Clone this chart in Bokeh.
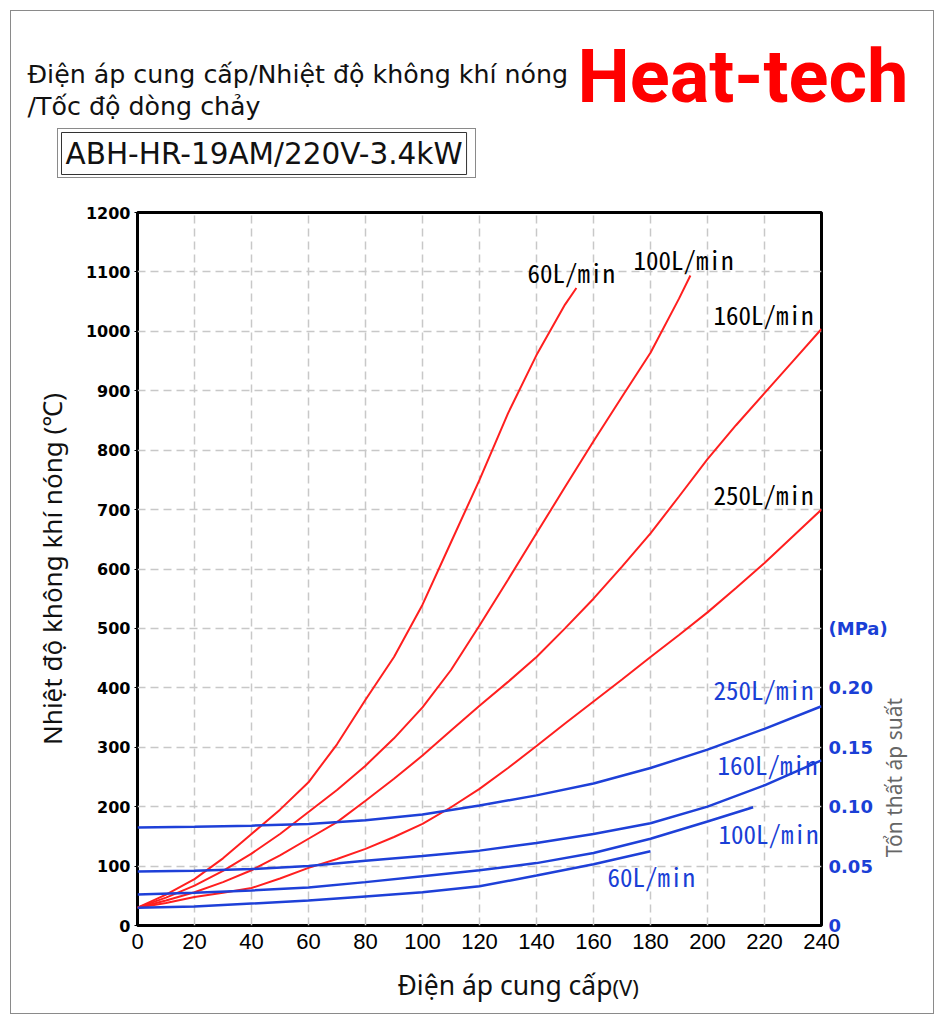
import math
from bokeh.plotting import figure
from bokeh.models import (Range1d, LinearAxis, Label, FixedTicker, InlineStyleSheet)
from bokeh.embed import file_html
from bokeh.resources import INLINE

# ---------------- data ----------------
volt_ticks = list(range(0, 241, 20))
temp_ticks = list(range(0, 1201, 100))
mpa_ticks = [0, 0.05, 0.10, 0.15, 0.20, 0.25]
mpa_tick_labels = ["0", "0.05", "0.10", "0.15", "0.20", "(MPa)"]

# hot-air temperature (°C) vs supply voltage (V)
red60_v = [0, 10, 20, 30, 40, 50, 60, 70, 80, 90, 100, 110, 120, 130, 140, 150, 154]
red60_t = [30, 52, 78, 113, 154, 195, 241, 305, 380, 452, 540, 645, 750, 862, 960, 1045, 1073]

red100_v = [0, 10, 20, 30, 40, 50, 60, 70, 80, 90, 100, 110, 120, 130, 140, 150, 160, 170, 180, 190, 194]
red100_t = [30, 47, 67, 92, 121, 154, 191, 228, 269, 315, 367, 430, 505, 582, 660, 738, 815, 890, 964, 1055, 1094]

red160_v = [0, 10, 20, 30, 40, 50, 60, 70, 80, 90, 100, 110, 120, 130, 140, 150, 160, 170, 180, 190, 200, 210, 220, 230, 240]
red160_t = [30, 42, 56, 73, 93, 118, 146, 174, 210, 247, 286, 328, 370, 410, 452, 500, 550, 604, 660, 722, 785, 842, 896, 950, 1004]

red250_v = [0, 10, 20, 30, 40, 50, 60, 70, 80, 90, 100, 110, 120, 130, 140, 150, 160, 170, 180, 190, 200, 210, 220, 230, 240]
red250_t = [30, 38, 48, 55, 63, 79, 97, 112, 129, 149, 171, 199, 230, 265, 302, 340, 377, 414, 452, 489, 527, 568, 610, 655, 700]

# pressure loss (MPa) vs supply voltage (V)
blue250_v = [0, 20, 40, 60, 80, 100, 120, 140, 160, 180, 200, 220, 240]
blue250_p = [0.0825, 0.083, 0.084, 0.0855, 0.0885, 0.0935, 0.101, 0.1095, 0.1195, 0.1325, 0.148, 0.1655, 0.1845]

blue160_v = [0, 20, 40, 60, 80, 100, 120, 140, 160, 180, 200, 220, 240]
blue160_p = [0.0455, 0.046, 0.0475, 0.050, 0.0545, 0.0585, 0.063, 0.0695, 0.077, 0.086, 0.100, 0.118, 0.139]

blue100_v = [0, 20, 40, 60, 80, 100, 120, 140, 160, 180, 200, 216]
blue100_p = [0.026, 0.0275, 0.0295, 0.032, 0.0365, 0.0415, 0.0465, 0.0525, 0.061, 0.073, 0.0875, 0.0995]

blue60_v = [0, 20, 40, 60, 80, 100, 120, 140, 160, 180]
blue60_p = [0.015, 0.016, 0.0185, 0.021, 0.0245, 0.028, 0.033, 0.042, 0.0515, 0.0625]

title1 = "Điện áp cung cấp/Nhiệt độ không khí nóng"
title2 = "/Tốc độ dòng chảy"
model = "ABH-HR-19AM/220V-3.4kW"
brand = "Heat-tech"
x_title = "Điện áp cung cấp"
x_unit = "(V)"
y_title = "Nhiệt độ không khí nóng (℃)"
y2_title = "Tổn thất áp suất"

# ---------------- styling ----------------
RED = "#ff1f1f"
BLUE = "#1e40d8"
BLUE_TXT = "#1a3fd6"

css = """
:host { position: relative; }
:host::before { content: ""; position: absolute; left: 10px; top: 10px; width: 922px; height: 1002px;
  border: 1.5px solid #8a8a8a; pointer-events: none; z-index: 5; }
:host::after { content: ""; position: absolute; left: 57px; top: 128px; width: 417px; height: 48px;
  border: 1px solid #8a8a8a; pointer-events: none; z-index: 5; }
"""

p = figure(frame_width=684, frame_height=713,
           min_border_left=137, min_border_right=115,
           min_border_top=212, min_border_bottom=91,
           x_range=Range1d(0, 240), y_range=Range1d(0, 1200),
           output_backend="svg", toolbar_location=None)
p.stylesheets = [InlineStyleSheet(css=css)]
p.extra_y_ranges = {"mpa": Range1d(0, 0.6)}
p.background_fill_color = "white"
p.border_fill_color = "white"
p.outline_line_color = "black"
p.outline_line_width = 3

# axes
p.xaxis.ticker = FixedTicker(ticks=volt_ticks)
p.yaxis.ticker = FixedTicker(ticks=temp_ticks)
for ax in (p.xaxis[0], p.yaxis[0]):
    ax.axis_line_color = None
    ax.major_tick_line_color = "black"
    ax.minor_tick_line_color = None
p.xaxis.major_tick_out = 0
p.xaxis.major_tick_in = 0
p.xaxis.major_label_text_font = "Liberation Sans"
p.xaxis.major_label_text_font_size = "22px"
p.xaxis.major_label_text_color = "black"
p.xaxis.major_label_standoff = 8
p.yaxis.major_tick_out = 3
p.yaxis.major_tick_in = 0
p.yaxis.major_label_text_font = "DejaVu Sans"
p.yaxis.major_label_text_font_style = "bold"
p.yaxis.major_label_text_font_size = "16px"
p.yaxis.major_label_text_color = "black"
p.yaxis.major_label_standoff = 4
p.yaxis.axis_label = y_title
p.yaxis.axis_label_text_font = "Noto Sans"
p.yaxis.axis_label_text_font_size = "26px"
p.yaxis.axis_label_text_font_style = "normal"
p.yaxis.axis_label_text_color = "#111111"
p.yaxis.axis_label_standoff = 13

raxis = LinearAxis(y_range_name="mpa", ticker=FixedTicker(ticks=mpa_ticks), bounds=(0, 0.25),
                   major_label_overrides={t: s for t, s in zip(mpa_ticks, mpa_tick_labels)})
raxis.axis_line_color = None
raxis.major_tick_line_color = None
raxis.minor_tick_line_color = None
raxis.major_label_text_font = "DejaVu Sans"
raxis.major_label_text_font_style = "bold"
raxis.major_label_text_font_size = "18px"
raxis.major_label_text_color = BLUE_TXT
raxis.major_label_standoff = 1
p.add_layout(raxis, "right")

# grid
p.xgrid.ticker = FixedTicker(ticks=volt_ticks)
p.ygrid.ticker = FixedTicker(ticks=temp_ticks)
for g in (p.xgrid[0], p.ygrid[0]):
    g.grid_line_color = "#c8c8c8"
    g.grid_line_width = 1.5
    g.grid_line_dash = "8 5"

# curves
for xs, ys in ((red60_v, red60_t), (red100_v, red100_t), (red160_v, red160_t), (red250_v, red250_t)):
    p.line(xs, ys, line_color=RED, line_width=2)
for xs, ys in ((blue250_v, blue250_p), (blue160_v, blue160_p), (blue100_v, blue100_p), (blue60_v, blue60_p)):
    p.line(xs, ys, line_color=BLUE, line_width=2.5, y_range_name="mpa")


def canvas_label(px, py, text, place="center", **kw):
    lab = Label(x=px, y=py, x_units="canvas", y_units="canvas", text=text,
                text_baseline="middle", **kw)
    if place == "center":
        p.add_layout(lab)
    else:
        p.add_layout(lab, place)


# curve labels (page pixel positions)
for txt, px, py, col in (("60L/min", 527, 271, "black"), ("100L/min", 633, 258, "black"),
                         ("160L/min", 713, 313, "black"), ("250L/min", 713, 493, "black"),
                         ("250L/min", 713, 688, BLUE_TXT), ("160L/min", 717, 763, BLUE_TXT),
                         ("100L/min", 718, 832, BLUE_TXT), ("60L/min", 607, 875, BLUE_TXT)):
    canvas_label(px, py, txt, text_font="Noto Sans Mono CJK JP", text_font_size="25px",
                 text_color=col, text_align="left")

# texts outside the frame live in side panels (so they are not clipped)
canvas_label(27, 74, title1, place="above", text_font="DejaVu Sans", text_font_size="25.3px",
             text_color="#111111", text_align="left")
canvas_label(27, 106, title2, place="above", text_font="DejaVu Sans", text_font_size="25.3px",
             text_color="#111111", text_align="left")
canvas_label(577, 76, brand, place="above", text_font="Roboto", text_font_style="bold",
             text_font_size="74px", text_color="#ff0000", text_align="left")
canvas_label(61, 153, model, place="above", text_font="DejaVu Sans", text_font_size="29.5px",
             text_color="#111111", text_align="left",
             border_line_color="#333333", border_line_width=1, padding=4)

canvas_label(397, 984, x_title, place="below", text_font="Noto Sans", text_font_size="26.5px",
             text_color="#111111", text_align="left")
canvas_label(612, 986, x_unit, place="left", text_font="Noto Sans", text_font_size="22px",
             text_color="#111111", text_align="left")
canvas_label(893, 777, y2_title, place="right", text_font="Noto Sans", text_font_size="21px",
             text_color="#666666", text_align="center", angle=math.pi / 2)

open("out.html", "w").write(file_html(p, INLINE))
